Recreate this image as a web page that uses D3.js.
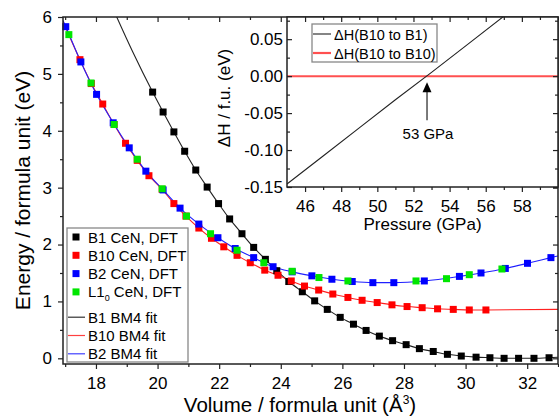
<!DOCTYPE html>
<html>
<head>
<meta charset="utf-8">
<script src="https://cdn.jsdelivr.net/npm/d3@7"></script>
<style>
  body { margin: 0; background: #fff; }
  text { font-family: "Liberation Sans", Arial, sans-serif; fill: #000; }
</style>
</head>
<body>
<div id="chart"></div>
<script>
// B1 CeN, DFT
const b1V = [19.84, 20.18, 20.53, 20.88, 21.24, 21.61, 21.98, 22.34, 22.74, 23.12, 23.50, 23.87,
             24.26, 24.70, 25.10, 25.51, 25.93, 26.36, 26.77, 27.20, 27.63, 28.07, 28.50, 28.95,
             29.41, 29.86, 30.34, 30.79, 31.25, 31.72, 32.22, 32.71];
const b1E = [4.68, 4.33, 3.98, 3.64, 3.31, 3.01, 2.72, 2.45, 2.19, 1.95, 1.74, 1.54,
             1.35, 1.17, 1.01, 0.86, 0.72, 0.60, 0.49, 0.39, 0.31, 0.24, 0.17, 0.12,
             0.07, 0.04, 0.02, 0.01, 0.00, 0.00, 0.00, 0.01];
// B10 CeN, DFT
const b10V = [17.48, 17.85, 18.22, 18.59, 18.96, 19.34, 19.72, 20.15, 20.53, 20.92, 21.34, 21.75,
              22.15, 22.58, 23.01, 23.48, 23.91, 24.34, 24.77, 25.23, 25.69, 26.18, 26.64, 27.13,
              27.61, 28.10, 28.59, 29.09, 29.60, 30.12, 30.66];
const b10E = [5.25, 4.83, 4.47, 4.11, 3.78, 3.48, 3.21, 2.97, 2.72, 2.50, 2.29, 2.11,
              1.96, 1.81, 1.68, 1.55, 1.46, 1.36, 1.27, 1.20, 1.13, 1.07, 1.02, 0.98,
              0.94, 0.91, 0.89, 0.87, 0.86, 0.85, 0.85];
// B2 CeN, DFT
const b2V = [17.02, 17.51, 18.02, 18.56, 19.08, 19.62, 20.18, 20.73, 21.34, 21.96, 22.52, 23.12,
             23.75, 24.37, 25.01, 25.66, 26.32, 26.99, 27.67, 28.66, 29.80, 30.50, 31.29, 32.01, 32.77];
const b2E = [5.83, 5.21, 4.64, 4.14, 3.70, 3.29, 2.96, 2.64, 2.36, 2.12, 1.93, 1.77,
             1.61, 1.52, 1.45, 1.39, 1.35, 1.33, 1.33, 1.36, 1.44, 1.50, 1.58, 1.67, 1.77];
// L1_0 CeN, DFT
const l10V = [17.12, 17.84, 18.59, 19.34, 20.15, 20.94, 21.72, 22.58, 23.45, 24.37, 25.24, 26.18,
              28.39, 29.38, 30.12, 31.18];
const l10E = [5.69, 4.84, 4.11, 3.50, 2.98, 2.50, 2.19, 1.90, 1.68, 1.53, 1.42, 1.36,
              1.36, 1.40, 1.47, 1.57];

// BM4 fit curves beyond the DFT points
const b1FitV = [18.50, 19.20, 33.00];
const b1FitE = [6.21, 5.38, 0.02];
const b10FitV = [16.93, 33.00];
const b10FitE = [5.92, 0.86];
const b2FitV = [16.93, 33.00];
const b2FitE = [5.94, 1.80];

// inset: enthalpy difference vs pressure
const dhP = [45, 47, 49, 51, 53, 55, 57];
const dhB1 = [-0.146, -0.108, -0.070, -0.032, 0.005, 0.043, 0.081];
const dhB10P = [45, 60];
const dhB10 = [0, 0];
const transitionP = 52.75;

const xTicks = [18, 20, 22, 24, 26, 28, 30, 32];
const yTicks = [0, 1, 2, 3, 4, 5, 6];
const pTicks = [46, 48, 50, 52, 54, 56, 58];
const dhTicks = [-0.15, -0.10, -0.05, 0.00, 0.05];

const legendLabels = ["B1 CeN, DFT", "B10 CeN, DFT", "B2 CeN, DFT", "L1|0 CeN, DFT",
                      "B1 BM4 fit", "B10 BM4 fit", "B2 BM4 fit"];
const insetLabels = ["\u0394H(B10 to B1)", "\u0394H(B10 to B10)"];

const W = 559, H = 419;
const margin = {top: 17, right: 1, bottom: 55, left: 63};

const svg = d3.select("#chart").append("svg")
    .attr("width", W).attr("height", H);

const x = d3.scaleLinear().domain([16.93, 33]).range([margin.left, W - margin.right]);
const y = d3.scaleLinear().domain([-0.1, 6]).range([H - margin.bottom, margin.top]);

const zip = (a, b) => a.map((v, i) => [v, b[i]]);
const fit = (v, e, fv, fe) => zip(v, e).concat(zip(fv, fe)).sort((a, b) => a[0] - b[0]);

svg.append("defs").append("clipPath").attr("id", "clipMain")
  .append("rect")
    .attr("x", x.range()[0]).attr("y", y.range()[1])
    .attr("width", x.range()[1] - x.range()[0])
    .attr("height", y.range()[0] - y.range()[1]);

const line = d3.line()
    .x(d => x(d[0])).y(d => y(d[1]))
    .curve(d3.curveMonotoneX);

const fits = [
  {d: fit(b1V, b1E, b1FitV, b1FitE), color: "#222"},
  {d: fit(b10V, b10E, b10FitV, b10FitE), color: "#ff2020"},
  {d: fit(b2V, b2E, b2FitV, b2FitE), color: "#2020ff"}
];

const plot = svg.append("g").attr("clip-path", "url(#clipMain)");
plot.selectAll("path.fit")
  .data(fits)
  .join("path")
    .attr("class", "fit")
    .attr("d", d => line(d.d))
    .attr("fill", "none")
    .attr("stroke", d => d.color)
    .attr("stroke-width", 1.1);

const sets = [
  {d: zip(b1V, b1E), color: "#000000"},
  {d: zip(b10V, b10E), color: "#ff0000"},
  {d: zip(b2V, b2E), color: "#0000ff"},
  {d: zip(l10V, l10E), color: "#00e600"}
];
const sq = 7;
sets.forEach(s => {
  svg.append("g").selectAll("rect")
    .data(s.d)
    .join("rect")
      .attr("x", d => x(d[0]) - sq / 2)
      .attr("y", d => y(d[1]) - sq / 2)
      .attr("width", sq).attr("height", sq)
      .attr("fill", s.color);
});

// axes
function styleAxis(g, size) {
  g.select(".domain").remove();
  g.selectAll("line").attr("stroke", "#222").attr("stroke-width", 1.2);
  g.selectAll("text").attr("font-size", size).attr("font-family", "Liberation Sans, Arial, sans-serif");
}
const xb = y.range()[0], yt = y.range()[1], xl = x.range()[0], xr = x.range()[1];
const odd = (a, b, s) => d3.range(a, b + 1e-9, s);

svg.append("g").attr("transform", `translate(0,${xb})`)
  .call(d3.axisBottom(x).tickValues(xTicks).tickSize(5).tickPadding(8).tickFormat(d3.format("d")))
  .call(g => styleAxis(g, 17));
svg.append("g").attr("transform", `translate(0,${xb})`)
  .call(d3.axisBottom(x).tickValues(odd(17, 33, 2)).tickSize(3).tickFormat(""))
  .call(g => styleAxis(g, 17));
svg.append("g").attr("transform", `translate(0,${yt})`)
  .call(d3.axisTop(x).tickValues(xTicks).tickSize(-5).tickFormat(""))
  .call(g => styleAxis(g, 17));
svg.append("g").attr("transform", `translate(0,${yt})`)
  .call(d3.axisTop(x).tickValues(odd(17, 33, 2)).tickSize(-3).tickFormat(""))
  .call(g => styleAxis(g, 17));
svg.append("g").attr("transform", `translate(${xl},0)`)
  .call(d3.axisLeft(y).tickValues(yTicks).tickSize(5).tickPadding(6).tickFormat(d3.format("d")))
  .call(g => styleAxis(g, 17));
svg.append("g").attr("transform", `translate(${xl},0)`)
  .call(d3.axisLeft(y).tickValues(odd(0.5, 5.5, 1)).tickSize(3).tickFormat(""))
  .call(g => styleAxis(g, 17));
svg.append("g").attr("transform", `translate(${xr},0)`)
  .call(d3.axisRight(y).tickValues(yTicks).tickSize(-5).tickFormat(""))
  .call(g => styleAxis(g, 17));
svg.append("g").attr("transform", `translate(${xr},0)`)
  .call(d3.axisRight(y).tickValues(odd(0.5, 5.5, 1)).tickSize(-3).tickFormat(""))
  .call(g => styleAxis(g, 17));

svg.append("rect")
    .attr("x", xl).attr("y", yt).attr("width", xr - xl).attr("height", xb - yt)
    .attr("fill", "none").attr("stroke", "#222").attr("stroke-width", 1.5);

// axis titles
svg.append("text")
    .attr("transform", `translate(30,${(yt + xb) / 2}) rotate(-90)`)
    .attr("text-anchor", "middle")
    .attr("font-size", 21)
    .text("Energy / formula unit (eV)");
const xt = svg.append("text")
    .attr("x", 300).attr("y", 412)
    .attr("text-anchor", "middle")
    .attr("font-size", 20.5);
xt.append("tspan").text("Volume / formula unit (\u00C5");
xt.append("tspan").attr("font-size", 12).attr("dy", -8).text("3");
xt.append("tspan").attr("dy", 8).text(")");

// main legend
const lg = svg.append("g");
lg.append("rect")
    .attr("x", 67).attr("y", 228).attr("width", 121).attr("height", 134)
    .attr("fill", "#fff").attr("stroke", "#888").attr("stroke-width", 1.3);
const legendColors = ["#000000", "#ff0000", "#0000ff", "#00e600", "#333", "#ff4040", "#4040ff"];
legendLabels.forEach((lab, i) => {
  const cy = 237 + i * 18.3 + (i >= 4 ? 7 : 0);
  if (i < 4) {
    lg.append("rect").attr("x", 76 - sq / 2).attr("y", cy - sq / 2)
      .attr("width", sq).attr("height", sq).attr("fill", legendColors[i]);
  } else {
    lg.append("line").attr("x1", 68).attr("x2", 85).attr("y1", cy).attr("y2", cy)
      .attr("stroke", legendColors[i]).attr("stroke-width", 1.2);
  }
  const t = lg.append("text").attr("x", 88).attr("y", cy + 5.5).attr("font-size", 15);
  const parts = lab.split("|");
  if (parts.length > 1) {
    t.append("tspan").text(parts[0]);
    t.append("tspan").attr("font-size", 9).attr("dy", 4).text(parts[1].slice(0, 1));
    t.append("tspan").attr("dy", -4).text(parts[1].slice(1));
  } else {
    t.text(lab);
  }
});

// inset
const xi = d3.scaleLinear().domain([45, 60]).range([287, 558]);
const yi = d3.scaleLinear().domain([-0.15, 0.08]).range([187, 17]);
const il = xi.range()[0], ir = xi.range()[1], ib = yi.range()[0], itop = yi.range()[1];

svg.append("rect")
    .attr("x", il).attr("y", itop).attr("width", ir - il).attr("height", ib - itop)
    .attr("fill", "#fff");

svg.select("defs").append("clipPath").attr("id", "clipInset")
  .append("rect").attr("x", il).attr("y", itop).attr("width", ir - il).attr("height", ib - itop);

const iline = d3.line().x(d => xi(d[0])).y(d => yi(d[1]));
const inset = svg.append("g").attr("clip-path", "url(#clipInset)");
inset.append("path")
    .attr("d", iline(zip(dhB10P, dhB10)))
    .attr("fill", "none").attr("stroke", "#ff5050").attr("stroke-width", 2);
inset.append("path")
    .attr("d", iline(zip(dhP, dhB1)))
    .attr("fill", "none").attr("stroke", "#222").attr("stroke-width", 1.1);

svg.append("g").attr("transform", `translate(0,${ib})`)
  .call(d3.axisBottom(xi).tickValues(pTicks).tickSize(5).tickPadding(8).tickFormat(d3.format("d")))
  .call(g => styleAxis(g, 17));
svg.append("g").attr("transform", `translate(0,${ib})`)
  .call(d3.axisBottom(xi).tickValues(odd(47, 59, 2)).tickSize(3).tickFormat(""))
  .call(g => styleAxis(g, 17));
svg.append("g").attr("transform", `translate(0,${itop})`)
  .call(d3.axisTop(xi).tickValues(pTicks).tickSize(-5).tickFormat(""))
  .call(g => styleAxis(g, 17));
svg.append("g").attr("transform", `translate(0,${itop})`)
  .call(d3.axisTop(xi).tickValues(odd(47, 59, 2)).tickSize(-3).tickFormat(""))
  .call(g => styleAxis(g, 17));
svg.append("g").attr("transform", `translate(${il},0)`)
  .call(d3.axisLeft(yi).tickValues(dhTicks).tickSize(-5).tickPadding(4).tickFormat(d => d.toFixed(2)))
  .call(g => styleAxis(g, 17));
svg.append("g").attr("transform", `translate(${il},0)`)
  .call(d3.axisLeft(yi).tickValues(odd(-0.125, 0.076, 0.05)).tickSize(-3).tickFormat(""))
  .call(g => styleAxis(g, 17));
svg.append("g").attr("transform", `translate(${ir},0)`)
  .call(d3.axisRight(yi).tickValues(dhTicks).tickSize(-5).tickFormat(""))
  .call(g => styleAxis(g, 17));
svg.append("g").attr("transform", `translate(${ir},0)`)
  .call(d3.axisRight(yi).tickValues(odd(-0.125, 0.076, 0.05)).tickSize(-3).tickFormat(""))
  .call(g => styleAxis(g, 17));

svg.append("rect")
    .attr("x", il).attr("y", itop).attr("width", ir - il).attr("height", ib - itop)
    .attr("fill", "none").attr("stroke", "#222").attr("stroke-width", 1.5);

svg.append("text")
    .attr("transform", `translate(230,${(itop + ib) / 2 - 4}) rotate(-90)`)
    .attr("text-anchor", "middle").attr("font-size", 17)
    .text("\u0394H / f.u. (eV)");
svg.append("text")
    .attr("x", (il + ir) / 2).attr("y", 230)
    .attr("text-anchor", "middle").attr("font-size", 17)
    .text("Pressure (GPa)");

// inset legend
const ilg = svg.append("g");
ilg.append("rect")
    .attr("x", 312).attr("y", 24).attr("width", 125).attr("height", 38)
    .attr("fill", "#fff").attr("stroke", "#888").attr("stroke-width", 1.3);
const insetColors = ["#333", "#ff5050"];
const insetWidths = [1.2, 2.2];
insetLabels.forEach((lab, i) => {
  const cy = 34 + i * 19;
  ilg.append("line").attr("x1", 313).attr("x2", 331).attr("y1", cy).attr("y2", cy)
    .attr("stroke", insetColors[i]).attr("stroke-width", insetWidths[i]);
  ilg.append("text").attr("x", 334).attr("y", cy + 5.5).attr("font-size", 14.5).text(lab);
});

// arrow to transition pressure
const ax = xi(transitionP), ay = yi(0) + 6;
svg.append("line")
    .attr("x1", ax).attr("x2", ax).attr("y1", ay + 8).attr("y2", ay + 38)
    .attr("stroke", "#222").attr("stroke-width", 1.2);
svg.append("path")
    .attr("d", `M${ax},${ay} L${ax - 4.5},${ay + 10} L${ax + 4.5},${ay + 10} Z`)
    .attr("fill", "#000");
svg.append("text")
    .attr("x", ax + 1).attr("y", ay + 57)
    .attr("text-anchor", "middle").attr("font-size", 15)
    .text("53 GPa");
</script>
</body>
</html>
